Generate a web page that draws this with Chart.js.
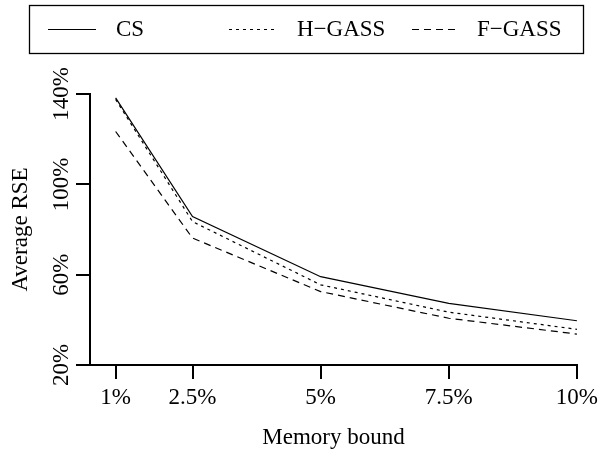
<!DOCTYPE html>
<html>
<head>
<meta charset="utf-8">
<script src="https://cdn.jsdelivr.net/npm/chart.js"></script>
<style>
    body { margin: 0; background: #ffffff; }
</style>
</head>
<body>
<canvas id="rse_chart" width="603" height="454"></canvas>
<script>

    let memory_bounds = [1, 2.5, 5, 7.5, 10];
    let memory_labels = ['1%', '2.5%', '5%', '7.5%', '10%'];

    let cs_data = [138.3, 85.7, 59.1, 47.3, 39.6];
    let h_gass_data = [137.6, 83.5, 55.5, 43.4, 35.8];
    let f_gass_data = [123.4, 76.2, 52.5, 40.7, 33.7];

    let y_ticks = [20, 40, 60, 80, 100, 120, 140];
    let y_labels = ['20%', '', '60%', '', '100%', '', '140%'];

    function to_points(values) {
        return memory_bounds.map((x, i) => ({ x: x, y: values[i] }));
    }

    Chart.defaults.font.family = '"Liberation Serif", serif';
    Chart.defaults.font.size = 23;
    Chart.defaults.color = '#000000';

    // legend drawn R-style, inside a box across the top
    let legend_box = {
        id: 'legend_box',
        afterDraw(chart) {
            let ctx = chart.ctx;
            let line_x = [48, 229, 412];
            let text_x = [116, 297, 477];

            ctx.save();
            ctx.strokeStyle = '#000000';
            ctx.lineWidth = 1.3;
            ctx.strokeRect(29.5, 5.5, 554, 48);

            ctx.font = '23px "Liberation Serif"';
            ctx.textBaseline = 'middle';
            ctx.fillStyle = '#000000';

            chart.data.datasets.forEach((ds, i) => {
                ctx.setLineDash(ds.borderDash || []);
                ctx.lineWidth = ds.borderWidth;
                ctx.beginPath();
                ctx.moveTo(line_x[i], 29.5);
                ctx.lineTo(line_x[i] + 48, 29.5);
                ctx.stroke();
                ctx.setLineDash([]);
                ctx.fillText(ds.label, text_x[i], 30);
            });
            ctx.restore();
        }
    };

    let axis_grid = {
        drawOnChartArea: false,
        drawTicks: true,
        tickLength: 14,
        color: '#000000',
        lineWidth: 2
    };

    new Chart(document.getElementById('rse_chart'), {

        type: 'line',

        data: {
            datasets: [
                {
                    label: 'CS',
                    data: to_points(cs_data),
                    borderColor: '#000000',
                    borderWidth: 1.2,
                    borderDash: [],
                    pointRadius: 0,
                    tension: 0,
                    fill: false
                },
                {
                    label: 'H\u2212GASS',
                    data: to_points(h_gass_data),
                    borderColor: '#000000',
                    borderWidth: 1.2,
                    borderDash: [3, 4],
                    pointRadius: 0,
                    tension: 0,
                    fill: false
                },
                {
                    label: 'F\u2212GASS',
                    data: to_points(f_gass_data),
                    borderColor: '#000000',
                    borderWidth: 1.2,
                    borderDash: [7, 5],
                    pointRadius: 0,
                    tension: 0,
                    fill: false
                }
            ]
        },

        options: {
            responsive: false,
            animation: false,

            layout: {
                padding: { top: 94, right: 24, left: 0, bottom: 0 }
            },

            plugins: {
                legend: { display: false },
                tooltip: { enabled: false }
            },

            scales: {
                x: {
                    type: 'linear',
                    min: 0.5,
                    max: 10,
                    afterBuildTicks: (scale) => {
                        scale.ticks = memory_bounds.map(v => ({ value: v }));
                    },
                    afterFit: (scale) => {
                        scale.height = 89;
                    },
                    ticks: {
                        autoSkip: false,
                        minRotation: 0,
                        maxRotation: 0,
                        padding: 5,
                        callback: (value) => memory_labels[memory_bounds.indexOf(value)]
                    },
                    grid: axis_grid,
                    border: { display: true, color: '#000000', width: 2 },
                    title: {
                        display: true,
                        text: 'Memory bound',
                        padding: { top: 0, bottom: 2 }
                    }
                },

                y: {
                    min: 20,
                    max: 140,
                    afterBuildTicks: (scale) => {
                        scale.ticks = y_ticks.map(v => ({ value: v }));
                    },
                    afterFit: (scale) => {
                        scale.width = 90;
                    },
                    ticks: {
                        minRotation: 90,
                        maxRotation: 90,
                        crossAlign: 'center',
                        padding: -13,
                        callback: (value) => y_labels[y_ticks.indexOf(value)]
                    },
                    grid: axis_grid,
                    border: { display: true, color: '#000000', width: 2 },
                    title: {
                        display: true,
                        text: 'Average RSE',
                        padding: { top: 7, bottom: 0 }
                    }
                }
            }
        },

        plugins: [legend_box]
    });

</script>
</body>
</html>
